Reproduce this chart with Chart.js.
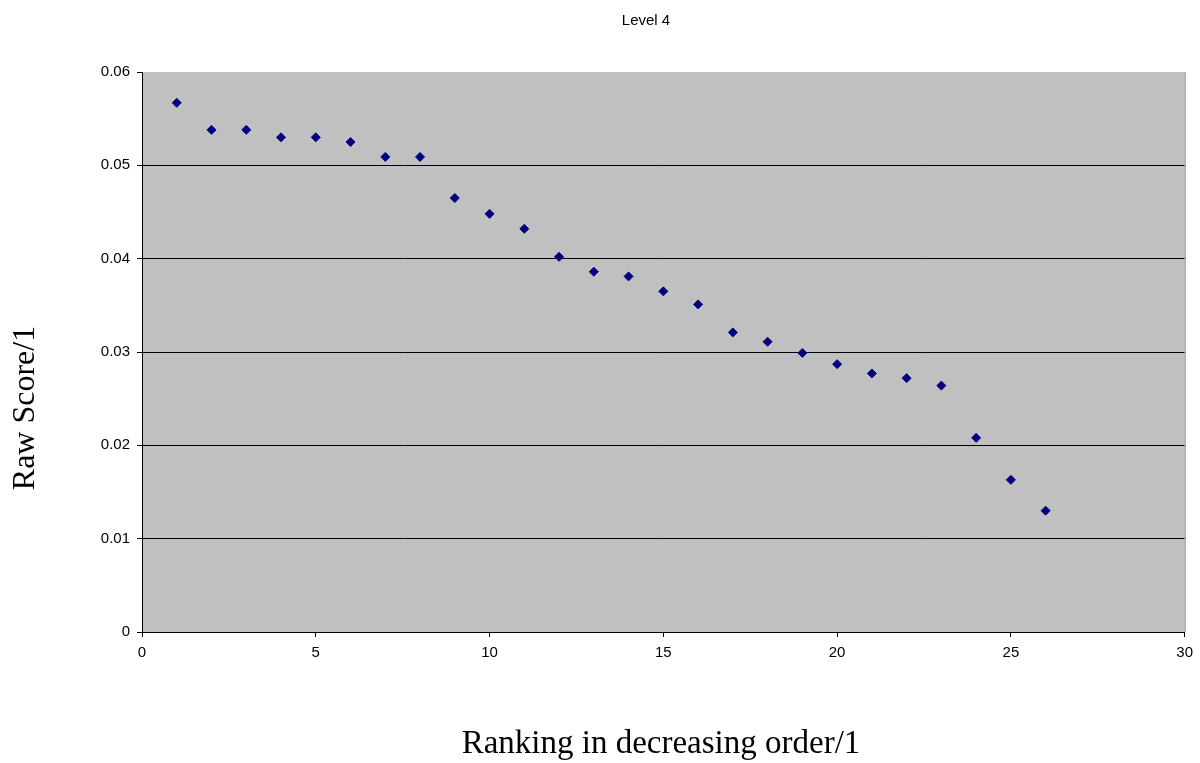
<!DOCTYPE html>
<html>
<head>
<meta charset="utf-8">
<title>Level 4</title>
<script src="https://cdn.jsdelivr.net/npm/chart.js@4/dist/chart.umd.min.js"></script>
<style>
  html, body { margin: 0; padding: 0; background: #fff; }
  #wrap { width: 1200px; height: 763px; position: relative; }
</style>
</head>
<body>
<div id="wrap"><canvas id="chart"></canvas></div>
<script>
// ranking positions and their raw scores
const ranks = [1, 2, 3, 4, 5, 6, 7, 8, 9, 10, 11, 12, 13, 14, 15, 16, 17, 18, 19, 20, 21, 22, 23, 24, 25, 26];
const scores = [0.0567, 0.0538, 0.0538, 0.0530, 0.0530, 0.0525, 0.0509, 0.0509, 0.0465, 0.0448,
                0.0432, 0.0402, 0.0386, 0.0381, 0.0365, 0.0351, 0.0321, 0.0311, 0.0299, 0.0287,
                0.0277, 0.0272, 0.0264, 0.0208, 0.0163, 0.0130];
const xTicks = [0, 5, 10, 15, 20, 25, 30];
const yTicks = [0, 0.01, 0.02, 0.03, 0.04, 0.05, 0.06];

const chartTitle = 'Level 4';
const xTitle = 'Ranking in decreasing order/1';
const yTitle = 'Raw Score/1';

const sans = '"Liberation Sans", Arial, sans-serif';
const serif = '"Liberation Serif", "Times New Roman", serif';

// grey plot background, right edge line, chart title and both axis titles
const plotFrame = {
  id: 'plotFrame',
  beforeDraw(chart) {
    const { ctx, chartArea: a } = chart;
    ctx.save();
    ctx.fillStyle = '#c0c0c0';
    ctx.fillRect(a.left, a.top, a.right - a.left, a.bottom - a.top);
    ctx.restore();
  },
  afterDraw(chart) {
    const { ctx, chartArea: a } = chart;
    ctx.save();
    ctx.strokeStyle = '#808080';
    ctx.lineWidth = 1;
    ctx.beginPath();
    ctx.moveTo(a.right + 0.5, a.top);
    ctx.lineTo(a.right + 0.5, a.bottom);
    ctx.stroke();

    ctx.fillStyle = '#000';
    ctx.textAlign = 'center';
    ctx.textBaseline = 'middle';
    ctx.font = '15px ' + sans;
    ctx.fillText(chartTitle, 646, 21);

    ctx.textBaseline = 'alphabetic';
    ctx.font = '33px ' + serif;
    ctx.fillText(xTitle, 661, 753);

    ctx.translate(34, 408);
    ctx.rotate(-Math.PI / 2);
    ctx.font = '32px ' + serif;
    ctx.fillText(yTitle, 0, 0);
    ctx.restore();
  }
};

new Chart(document.getElementById('chart'), {
  type: 'scatter',
  data: {
    datasets: [{
      label: chartTitle,
      data: ranks.map((r, i) => ({ x: r, y: scores[i] })),
      pointStyle: 'rectRot',
      pointRadius: 4.5,
      pointHoverRadius: 4.5,
      backgroundColor: '#000080',
      borderColor: '#000080',
      borderWidth: 1
    }]
  },
  options: {
    responsive: true,
    maintainAspectRatio: false,
    animation: false,
    layout: { padding: { top: 72, right: 15, bottom: 0, left: 0 } },
    plugins: {
      legend: { display: false },
      tooltip: { enabled: false }
    },
    scales: {
      x: {
        type: 'linear',
        min: 0,
        max: 30,
        afterBuildTicks: s => { s.ticks = xTicks.map(v => ({ value: v })); },
        afterFit: s => { s.height = 131; },
        grid: { drawOnChartArea: false, drawTicks: true, tickLength: 5, color: '#000' },
        border: { display: true, color: '#000', width: 1 },
        ticks: {
          color: '#000',
          padding: 7,
          font: { family: sans, size: 15 }
        }
      },
      y: {
        type: 'linear',
        min: 0,
        max: 0.06,
        afterBuildTicks: s => { s.ticks = yTicks.map(v => ({ value: v })); },
        afterFit: s => { s.width = 142; },
        grid: {
          drawTicks: true,
          tickLength: 5,
          tickColor: '#000',
          color: c => (c.tick && c.tick.value === 0.06 ? 'rgba(0,0,0,0)' : '#000')
        },
        border: { display: true, color: '#000', width: 1 },
        ticks: {
          color: '#000',
          padding: 7,
          font: { family: sans, size: 15 },
          callback: v => String(v)
        }
      }
    }
  },
  plugins: [plotFrame]
});
</script>
</body>
</html>
